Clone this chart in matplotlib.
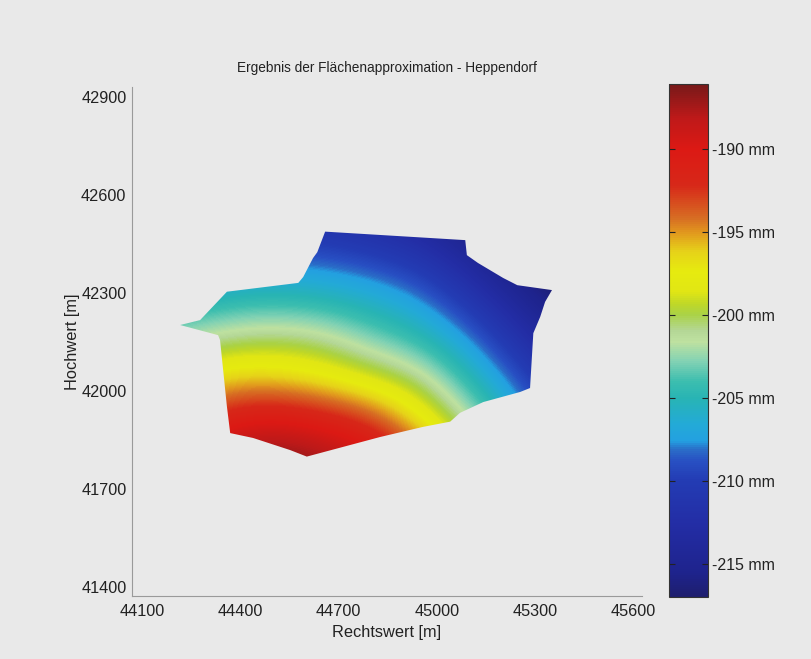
"""Flächenapproximation Heppendorf - surface over the survey area, jet-like colours."""

import matplotlib
matplotlib.use("Agg")
import matplotlib.pyplot as plt
import numpy as np
from matplotlib.colors import LinearSegmentedColormap, Normalize
from matplotlib.patches import Polygon

# approximated surface on a coarse grid [mm]
grid_x = [44200, 44350, 44500, 44650, 44800, 44950, 45100, 45250, 45400]
grid_y = [41800, 41920, 42040, 42160, 42280, 42400, 42520]
surface = [
    [-188.9, -187.0, -186.2, -187.0, -188.5, -192.5, -198.9, -204.0, -208.9],
    [-194.2, -191.1, -190.0, -191.1, -193.0, -197.3, -201.6, -206.5, -210.7],
    [-198.3, -196.3, -196.2, -197.3, -199.0, -200.6, -204.7, -208.9, -212.9],
    [-202.1, -200.8, -200.3, -200.8, -202.8, -204.4, -207.7, -211.6, -215.0],
    [-205.9, -204.9, -204.5, -204.9, -205.9, -207.6, -210.8, -214.2, -217.4],
    [-209.4, -208.5, -208.2, -208.5, -209.4, -210.8, -213.6, -216.9, -218.0],
    [-212.7, -211.9, -211.7, -211.9, -212.7, -213.9, -216.4, -218.0, -218.0],
]

# outline of the area (Rechtswert / Hochwert in m)
boundary_x = [44659, 45087, 45092, 45126, 45203, 45246, 45352, 45331, 45316, 45295,
              45285, 45255, 45142, 45071, 45041, 44958, 44827, 44603, 44552, 44439,
              44369, 44359, 44338, 44332, 44216, 44277, 44359, 44577, 44592, 44622,
              44635]
boundary_y = [42488, 42462, 42416, 42392, 42346, 42324, 42309, 42273, 42227, 42177,
              42009, 41997, 41966, 41933, 41906, 41890, 41859, 41799, 41819, 41856,
              41871, 41952, 42156, 42171, 42202, 42217, 42304, 42331, 42349, 42407,
              42425]

x_ticks = [44100, 44400, 44700, 45000, 45300, 45600]
y_ticks = [41400, 41700, 42000, 42300, 42600, 42900]
cbar_ticks = [-215, -210, -205, -200, -195, -190]
vmin, vmax = -217.0, -186.1

# jet as it looks on the scanned print (stops picked from the colour bar)
scan_jet = LinearSegmentedColormap.from_list("scan_jet", [
    (0.000, "#1e1e6e"),
    (0.045, "#1e238c"),
    (0.142, "#232da5"),
    (0.227, "#233cb4"),
    (0.265, "#2850c3"),
    (0.288, "#2a6ec8"),
    (0.304, "#23a0e1"),
    (0.337, "#23aad7"),
    (0.388, "#28b4b4"),
    (0.421, "#3cbeaf"),
    (0.460, "#82d2b4"),
    (0.498, "#bee1a0"),
    (0.518, "#b4d796"),
    (0.550, "#aad246"),
    (0.570, "#bed728"),
    (0.595, "#e1e614"),
    (0.634, "#e6eb0f"),
    (0.673, "#e6d219"),
    (0.712, "#e1961e"),
    (0.738, "#d76e23"),
    (0.803, "#d72819"),
    (0.874, "#dc1914"),
    (0.935, "#be1919"),
    (1.000, "#781919"),
])

bg = "#e9e9e9"
txt = "#222222"
plt.rcParams["font.family"] = ["Liberation Sans", "DejaVu Sans"]

fig = plt.figure(figsize=(8.11, 6.59), dpi=100, facecolor=bg)
ax = fig.add_axes([132 / 811, 1 - 596 / 659, 510 / 811, 509 / 659])
ax.set_facecolor(bg)

dx = grid_x[1] - grid_x[0]
dy = grid_y[1] - grid_y[0]
extent = [grid_x[0] - dx / 2, grid_x[-1] + dx / 2, grid_y[0] - dy / 2, grid_y[-1] + dy / 2]
norm = Normalize(vmin=vmin, vmax=vmax)
im = ax.imshow(np.array(surface), origin="lower", extent=extent, cmap=scan_jet, norm=norm,
               interpolation="bicubic", aspect="auto")
outline = Polygon(np.column_stack([boundary_x, boundary_y]), closed=True,
                  transform=ax.transData, facecolor="none", edgecolor="none")
ax.add_patch(outline)
im.set_clip_path(outline)

ax.set_xlim(44069, 45627)
ax.set_ylim(41372, 42931)
ax.set_xticks(x_ticks)
ax.set_yticks(y_ticks)
ax.tick_params(length=0, labelsize=11.7, colors=txt)
ax.tick_params(axis="x", pad=6)
ax.tick_params(axis="y", pad=4)
for side in ("top", "right"):
    ax.spines[side].set_visible(False)
for side in ("left", "bottom"):
    ax.spines[side].set_color("#9a9a9a")
    ax.spines[side].set_linewidth(0.8)

ax.set_xlabel("Rechtswert [m]", fontsize=11.8, color=txt, labelpad=4)
ax.set_ylabel("Hochwert [m]", fontsize=11.8, color=txt, labelpad=1)
ax.set_title("Ergebnis der Flächenapproximation - Heppendorf", fontsize=9.8,
             color=txt, pad=11)

cax = fig.add_axes([669 / 811, 1 - 597 / 659, 39 / 811, 513 / 659])
cb = fig.colorbar(im, cax=cax, ticks=cbar_ticks)
cb.ax.set_yticklabels([f"{t} mm" for t in cbar_ticks])
cb.ax.tick_params(labelsize=11.5, colors=txt, direction="in", length=4, width=0.8,
                  left=True, right=True, pad=3)
cb.outline.set_linewidth(0.8)
cb.outline.set_edgecolor("#333333")

fig.savefig("out.png", dpi=100, facecolor=bg)
